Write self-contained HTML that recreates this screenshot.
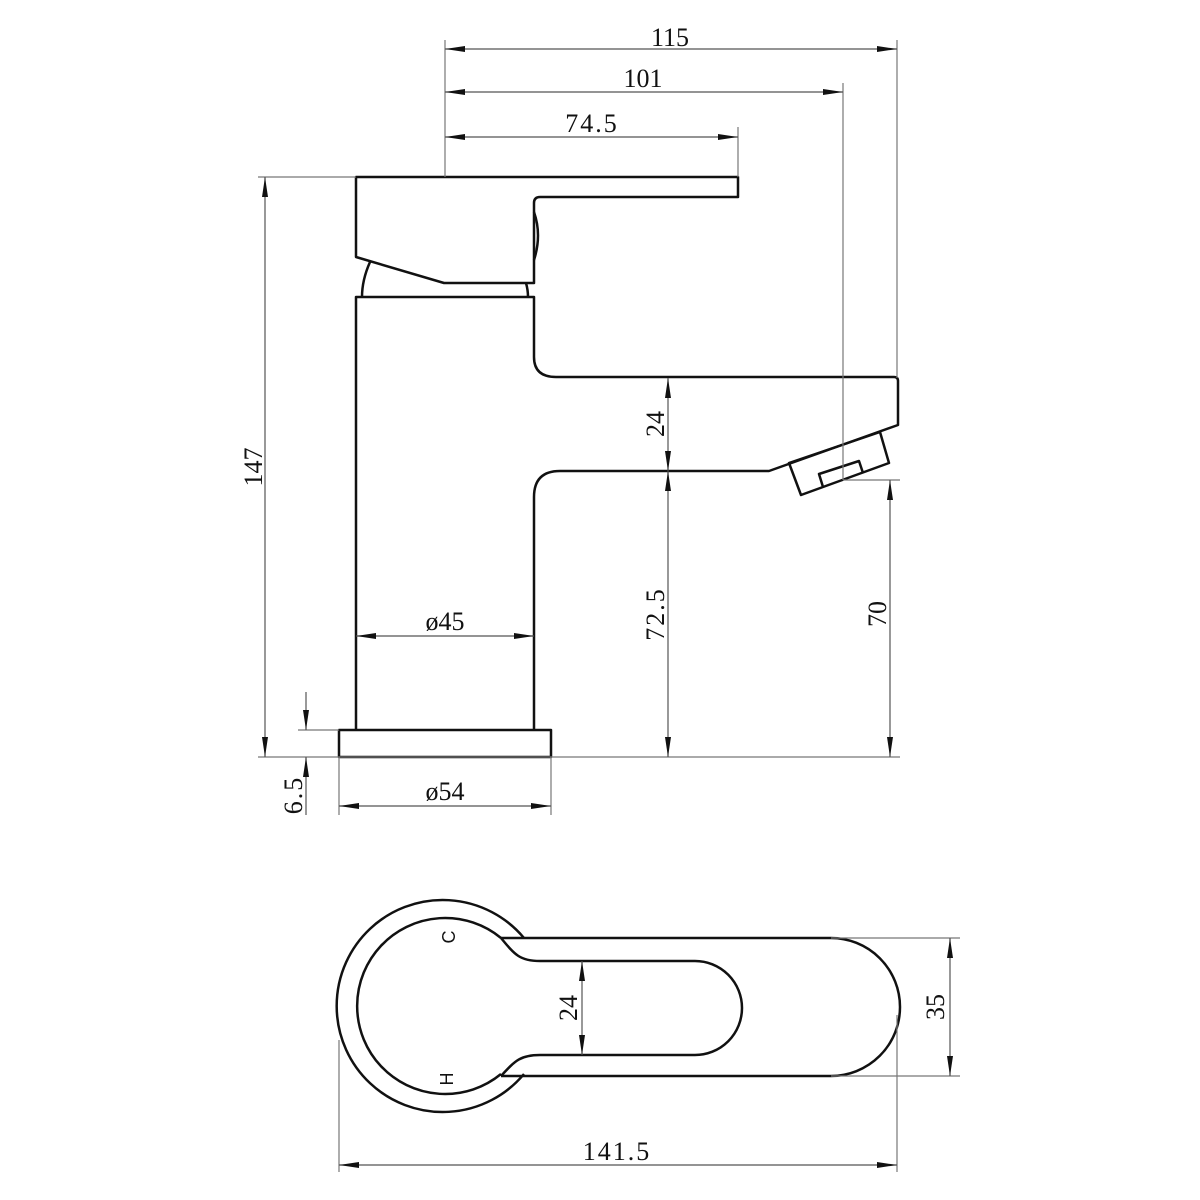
<!DOCTYPE html>
<html><head><meta charset="utf-8"><style>
html,body{margin:0;padding:0;background:#fff}
svg{display:block}
text{font-family:"Liberation Serif",serif;font-size:26px;fill:#111}
.o{fill:none;stroke:#111;stroke-width:2.5;stroke-linejoin:round}
.d{fill:none;stroke:#777;stroke-width:1.2}
.a{fill:none;stroke:#555;stroke-width:1.2;marker-start:url(#ar);marker-end:url(#ar)}
.a1{fill:none;stroke:#555;stroke-width:1.2;marker-end:url(#ar)}
</style></head><body>
<svg width="1200" height="1200" viewBox="0 0 1200 1200" xmlns="http://www.w3.org/2000/svg">
<defs>
<marker id="ar" viewBox="0 0 20 6" refX="20" refY="3" markerWidth="20" markerHeight="6" markerUnits="userSpaceOnUse" orient="auto-start-reverse">
<path d="M0,0 L20,3 L0,6 Z" fill="#111"/>
</marker>
</defs>

<path class="o" d="M356,177 L738,177 L738,197 L540,197 Q534,197 534,203 L534,283 L444,283 L356,257 Z"/>
<path class="o" d="M534,212 Q542,235 534,260"/>
<path class="o" d="M370,262 Q362,280 362,297"/>
<path class="o" d="M526,283 Q528,290 528,297"/>
<path class="o" d="M356,730 L356,297 L534,297 L534,357 Q534,377 556,377 L894,377 Q898,377 898,381 L898,425 L769,471 L560,471 Q534,471 534,497 L534,730"/>
<path class="o" d="M789,463 L880,432 L889,463 L801,495 Z"/>
<path class="o" d="M823,487 L819,474 L859,461 L863,473"/>
<rect class="o" x="339" y="730" width="212" height="27"/>

<path class="d" d="M445,40 V177 M897,40 V378 M843,83 V480 M738,127 V177"/>
<path class="a" d="M445,49 H897"/>
<path class="a" d="M445,92 H843"/>
<path class="a" d="M445,137 H738"/>
<text x="670" y="46" text-anchor="middle">115</text>
<text x="643" y="87" text-anchor="middle">101</text>
<text x="592" y="132" text-anchor="middle" letter-spacing="2">74.5</text>

<path class="d" d="M258,177 H356 M258,757 H900 M843,480 H900 M298,730 H339 M339,757 V815 M551,757 V815"/>
<path class="a" d="M265,177 V757"/>
<text transform="translate(262,467) rotate(-90)" text-anchor="middle">147</text>

<path class="a" d="M668,378 V471"/>
<text transform="translate(664,424) rotate(-90)" text-anchor="middle">24</text>
<path class="a" d="M668,471 V757"/>
<text transform="translate(664,614) rotate(-90)" text-anchor="middle" letter-spacing="2">72.5</text>
<path class="a" d="M890,480 V757"/>
<text transform="translate(886,614) rotate(-90)" text-anchor="middle">70</text>
<path class="a" d="M356,636 H534"/>
<text x="445" y="630" text-anchor="middle">ø45</text>
<path class="a" d="M339,806 H551"/>
<text x="445" y="800" text-anchor="middle">ø54</text>
<path class="a1" d="M306,692 V730"/>
<path class="a1" d="M306,815 V757"/>
<text transform="translate(302,795) rotate(-90)" text-anchor="middle" letter-spacing="2">6.5</text>

<path class="o" d="M524,938 A106,106 0 1,0 524,1074"/>
<path class="o" d="M501,938 A88,88 0 1,0 501,1074"/>
<path class="o" d="M501,938 L831,938 A69,69 0 0,1 831,1076 L501,1076"/>
<path class="o" d="M501,938 C515,955 520,961 540,961 L695,961 A47,47 0 0,1 695,1055 L540,1055 C520,1055 515,1061 501,1076"/>
<text transform="translate(455,937) rotate(-90)" text-anchor="middle" style="font-family:'Liberation Sans',sans-serif;font-size:18px">C</text>
<text transform="translate(453,1079) rotate(-90)" text-anchor="middle" style="font-family:'Liberation Sans',sans-serif;font-size:18px">H</text>
<path class="a" d="M582,961 V1055"/>
<text transform="translate(577,1008) rotate(-90)" text-anchor="middle">24</text>
<path class="d" d="M831,938 H960 M831,1076 H960 M339,1040 V1172 M897,1015 V1172"/>
<path class="a" d="M950,938 V1076"/>
<text transform="translate(944,1007) rotate(-90)" text-anchor="middle">35</text>
<path class="a" d="M339,1165 H897"/>
<text x="617" y="1160" text-anchor="middle" letter-spacing="2">141.5</text>
</svg>
</body></html>
